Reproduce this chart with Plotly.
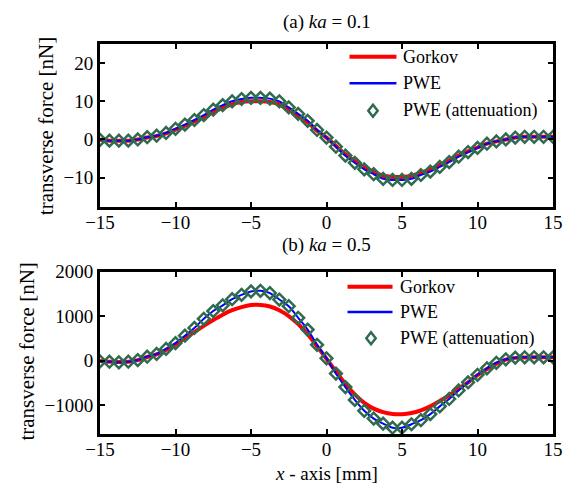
import plotly.graph_objects as go
from plotly.subplots import make_subplots

x_mm = [-15, -14.375, -13.75, -13.125, -12.5, -11.875, -11.25, -10.625, -10, -9.375,
        -8.75, -8.125, -7.5, -6.875, -6.25, -5.625, -5, -4.375, -3.75, -3.125,
        -2.5, -1.875, -1.25, -0.625, 0, 0.625, 1.25, 1.875, 2.5, 3.125,
        3.75, 4.375, 5, 5.625, 6.25, 6.875, 7.5, 8.125, 8.75, 9.375,
        10, 10.625, 11.25, 11.875, 12.5, 13.125, 13.75, 14.375, 15]

# (a) ka = 0.1
gorkov_a = [-0.1, -0.3, -0.3, -0.3, 0.0, 0.5, 0.9, 1.6, 2.6, 3.6,
            4.7, 5.9, 7.2, 8.3, 9.2, 9.8, 10.0, 10.0, 9.8, 9.2,
            7.8, 6.2, 4.5, 2.3, 0.5, -1.7, -3.9, -5.7, -7.3, -8.5,
            -9.5, -9.8, -9.8, -9.5, -8.7, -7.8, -6.7, -5.5, -4.2, -3.1,
            -2.1, -1.1, -0.5, 0.0, 0.5, 0.7, 0.7, 0.7, 0.7]
pwe_a = [-0.1, -0.3, -0.3, -0.3, 0.0, 0.6, 1.0, 1.7, 2.8, 3.9,
         5.1, 6.4, 7.8, 9.0, 10.0, 10.6, 10.9, 10.9, 10.7, 10.0,
         8.4, 6.7, 4.9, 2.5, 0.5, -1.9, -4.2, -6.1, -7.8, -9.1,
         -10.3, -10.6, -10.6, -10.3, -9.3, -8.4, -7.2, -5.9, -4.5, -3.3,
         -2.2, -1.1, -0.5, 0.0, 0.5, 0.7, 0.7, 0.7, 0.7]
pwe_att_a = [-0.1, -0.3, -0.3, -0.3, 0.0, 0.6, 1.0, 1.7, 2.8, 3.9,
             5.1, 6.4, 7.8, 9.0, 10.0, 10.6, 10.9, 10.9, 10.7, 10.0,
             8.4, 6.7, 4.9, 2.5, 0.5, -1.9, -4.2, -6.1, -7.8, -9.1,
             -10.3, -10.6, -10.6, -10.3, -9.3, -8.4, -7.2, -5.9, -4.5, -3.3,
             -2.2, -1.1, -0.5, 0.0, 0.5, 0.7, 0.7, 0.7, 0.7]

# (b) ka = 0.5
gorkov_b = [-10, -25, -35, -25, 10, 80, 140, 240, 360, 500,
            640, 780, 910, 1030, 1130, 1200, 1245, 1250, 1215, 1130,
            1000, 820, 590, 320, 40, -250, -520, -760, -950, -1080,
            -1160, -1200, -1205, -1180, -1120, -1030, -910, -780, -630, -490,
            -330, -190, -70, 20, 60, 70, 72, 72, 72]
pwe_b = [-20, -27, -40, -27, 11, 87, 148, 262, 391, 558,
         733, 938, 1112, 1241, 1378, 1476, 1553, 1567, 1515, 1370,
         1220, 961, 695, 353, 50, -292, -597, -884, -1128, -1303,
         -1417, -1508, -1508, -1431, -1340, -1203, -1029, -862, -672, -490,
         -320, -175, -50, 27, 65, 72, 72, 72, 72]
pwe_att_b = [-20, -27, -40, -27, 11, 87, 148, 262, 391, 558,
             733, 938, 1112, 1241, 1378, 1476, 1553, 1567, 1515, 1370,
             1220, 961, 695, 353, 50, -292, -597, -884, -1128, -1303,
             -1417, -1508, -1508, -1431, -1340, -1203, -1029, -862, -672, -490,
             -320, -175, -50, 27, 65, 72, 72, 72, 72]

series_names = ["Gorkov", "PWE", "PWE (attenuation)"]
x_ticks = [-15, -10, -5, 0, 5, 10, 15]
y_ticks_a = [-10, 0, 10, 20]
y_ticks_b = [-1000, 0, 1000, 2000]

FONT = "Times New Roman, Liberation Serif, Times, serif"
RED = "#ff0000"
BLUE = "#0000ff"
GREEN = "#2f6b4f"

fig = make_subplots(rows=2, cols=1)

for row, (g, p, a) in enumerate([(gorkov_a, pwe_a, pwe_att_a),
                                  (gorkov_b, pwe_b, pwe_att_b)], start=1):
    fig.add_trace(go.Scatter(x=x_mm, y=g, mode="lines", name=series_names[0],
                             line=dict(color=RED, width=4, shape="spline"),
                             showlegend=False), row=row, col=1)
    fig.add_trace(go.Scatter(x=x_mm, y=p, mode="lines", name=series_names[1],
                             line=dict(color=BLUE, width=2, shape="spline"),
                             showlegend=False), row=row, col=1)
    fig.add_trace(go.Scatter(x=x_mm, y=a, mode="markers", name=series_names[2],
                             marker=dict(symbol="diamond-open", size=9, color=GREEN,
                                         line=dict(color=GREEN, width=2.5)),
                             showlegend=False), row=row, col=1)

axis_common = dict(showgrid=False, zeroline=False, showline=True, linecolor="black",
                   linewidth=3, mirror="allticks", ticks="inside", ticklen=5,
                   tickwidth=2, tickcolor="black",
                   tickfont=dict(family=FONT, size=19, color="black"))

fig.update_xaxes(range=[-15, 15], tickvals=x_ticks, ticklabelstandoff=-4, **axis_common)
fig.update_yaxes(range=[-17.6, 25], tickvals=y_ticks_a, row=1, col=1, **axis_common)
fig.update_yaxes(range=[-1650, 2000], tickvals=y_ticks_b, row=2, col=1, **axis_common)

# Positions below are in page pixels (plot area: x 100..563, y 44..434).
H = 390.0
W = 463.0


def px(xp):
    return (xp - 100) / W


def py(yp):
    return 1 - (yp - 44) / H


shapes = []
annotations = []

# Legend boxes (drawn as layout decorations, one per panel)
legend_specs = [
    dict(x0=355, x1=403, xd=379, xt=408, rows=[56.7, 83.3, 110.7]),
    dict(x0=353, x1=399, xd=377, xt=405, rows=[286.7, 312.0, 338.3]),
]
for spec in legend_specs:
    r0, r1, r2 = spec["rows"]
    shapes.append(dict(type="line", xref="paper", yref="paper",
                       x0=px(spec["x0"]), x1=px(spec["x1"]), y0=py(r0), y1=py(r0),
                       line=dict(color=RED, width=4)))
    shapes.append(dict(type="line", xref="paper", yref="paper",
                       x0=px(spec["x0"]), x1=px(spec["x1"]), y0=py(r1), y1=py(r1),
                       line=dict(color=BLUE, width=2.5)))
    xd, hw, hh = spec["xd"], 4.8, 6.0
    path = (f"M{px(xd)},{py(r2 - hh)} L{px(xd + hw)},{py(r2)} "
            f"L{px(xd)},{py(r2 + hh)} L{px(xd - hw)},{py(r2)} Z")
    shapes.append(dict(type="path", xref="paper", yref="paper", path=path,
                       line=dict(color=GREEN, width=2.5), fillcolor="rgba(0,0,0,0)"))
    for name, r in zip(series_names, spec["rows"]):
        annotations.append(dict(text=name, x=px(spec["xt"]), y=py(r), xref="paper", yref="paper",
                                showarrow=False, xanchor="left", yanchor="middle",
                                font=dict(family=FONT, size=18, color="black")))

annotations += [
    dict(text="(a) <i>ka</i> = 0.1", x=0.5, y=py(22), xref="paper", yref="paper",
         showarrow=False, xanchor="center", yanchor="middle", font=dict(family=FONT, size=19)),
    dict(text="(b) <i>ka</i> = 0.5", x=0.5, y=py(245), xref="paper", yref="paper",
         showarrow=False, xanchor="center", yanchor="middle", font=dict(family=FONT, size=19)),
    dict(text="transverse force [nN]", x=px(45), y=py(126),
         xref="paper", yref="paper", showarrow=False, textangle=-90,
         xanchor="center", yanchor="middle", font=dict(family=FONT, size=21)),
    dict(text="transverse force [nN]", x=px(25), y=py(352),
         xref="paper", yref="paper", showarrow=False, textangle=-90,
         xanchor="center", yanchor="middle", font=dict(family=FONT, size=21)),
    dict(text="<i>x</i> - axis [mm]", x=0.5, y=py(473), xref="paper", yref="paper",
         showarrow=False, xanchor="center", yanchor="middle", font=dict(family=FONT, size=19)),
]

fig.update_layout(
    width=573, height=485,
    margin=dict(l=100, r=10, t=44, b=51),
    paper_bgcolor="white", plot_bgcolor="white",
    font=dict(family=FONT, color="black"),
    showlegend=False,
    xaxis=dict(domain=[0, 1]),
    yaxis=dict(domain=[1 - 162.7 / H, 1]),
    xaxis2=dict(domain=[0, 1]),
    yaxis2=dict(domain=[0, 1 - (271.5 - 44) / H]),
    shapes=shapes,
    annotations=annotations,
)

# remove the browser's default 8 px page margin so the figure fills the window exactly
fig.write_html("out.html",
               config={"displayModeBar": False},
               post_script="document.body.style.margin='0';document.body.style.overflow='hidden';")
